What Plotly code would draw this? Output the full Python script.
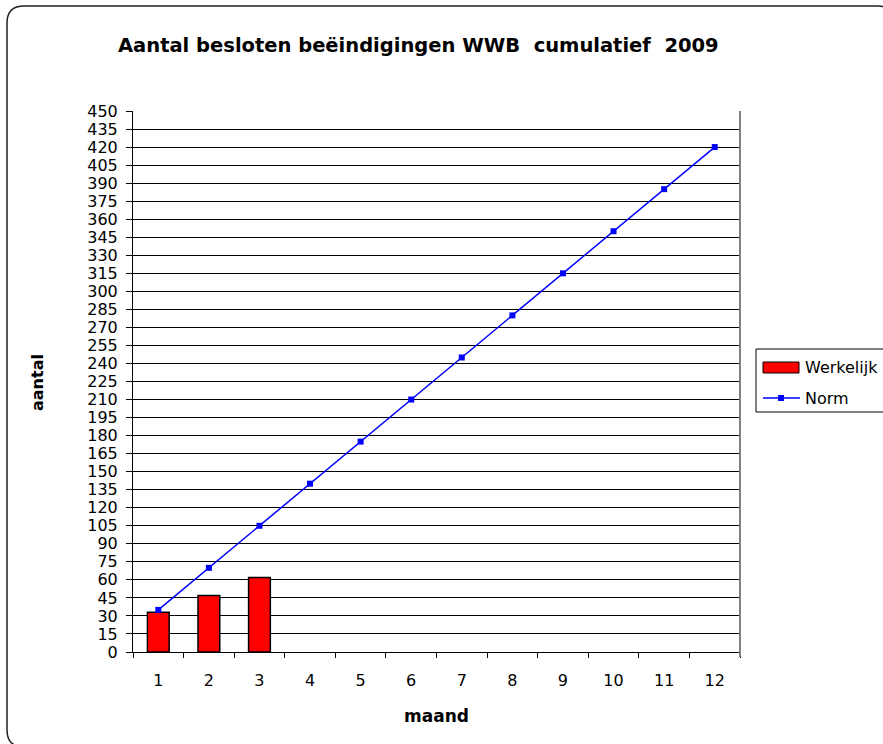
import plotly.graph_objects as go

MONTHS = [str(m) for m in range(1, 13)]
WERKELIJK = [33, 47, 62]
NORM = [35, 70, 105, 140, 175, 210, 245, 280, 315, 350, 385, 420]
Y_TICKS = list(range(0, 451, 15))

W, H = 883, 744
L, R, T, B = 133, 740, 111, 652   # plot area in pixels
FONT = "DejaVu Sans, Arial, sans-serif"


def px_x(x):
    return (x - L) / (R - L)


def px_y(y):
    return (B - y) / (B - T)


def rounded_rect(x0, y0, x1, y1, r):
    pts = [
        f"M {px_x(x0 + r)} {px_y(y0)}",
        f"L {px_x(x1 - r)} {px_y(y0)}",
        f"Q {px_x(x1)} {px_y(y0)} {px_x(x1)} {px_y(y0 + r)}",
        f"L {px_x(x1)} {px_y(y1 - r)}",
        f"Q {px_x(x1)} {px_y(y1)} {px_x(x1 - r)} {px_y(y1)}",
        f"L {px_x(x0 + r)} {px_y(y1)}",
        f"Q {px_x(x0)} {px_y(y1)} {px_x(x0)} {px_y(y1 - r)}",
        f"L {px_x(x0)} {px_y(y0 + r)}",
        f"Q {px_x(x0)} {px_y(y0)} {px_x(x0 + r)} {px_y(y0)} Z",
    ]
    return " ".join(pts)


def box(x0, y0, x1, y1, **kw):
    fig.add_shape(type="rect", xref="paper", yref="paper",
                  x0=px_x(x0), x1=px_x(x1), y0=px_y(y1), y1=px_y(y0), **kw)


def label(text, x, y, size=16, xanchor="left", angle=0):
    fig.add_annotation(text=text, xref="paper", yref="paper",
                       x=px_x(x), y=px_y(y), xanchor=xanchor, yanchor="middle",
                       showarrow=False, textangle=angle, font=dict(size=size))


fig = go.Figure()
fig.add_trace(go.Bar(
    x=MONTHS[:len(WERKELIJK)], y=WERKELIJK, name="Werkelijk",
    marker=dict(color="#FF0000", line=dict(color="black", width=1.5)),
    hoverinfo="skip",
))
fig.add_trace(go.Scatter(
    x=MONTHS, y=NORM, name="Norm", mode="lines+markers",
    line=dict(color="#0000FF", width=1.5),
    marker=dict(symbol="square", size=6, color="#0000FF"),
    hoverinfo="skip",
))

fig.update_layout(
    width=W, height=H,
    margin=dict(l=L, r=W - R, t=T, b=H - B, autoexpand=False),
    paper_bgcolor="white", plot_bgcolor="white",
    font=dict(family=FONT, size=16, color="black"),
    bargap=0.57,
    showlegend=False,
)

fig.update_xaxes(
    type="category", categoryarray=MONTHS, range=[-0.5, 11.5],
    showgrid=False, showline=True, linecolor="black", linewidth=1,
    ticks="outside", tickson="boundaries", ticklen=5, tickcolor="black",
    ticklabelstandoff=14,
)
fig.update_yaxes(
    range=[0, 450], tickvals=Y_TICKS,
    showgrid=True, gridcolor="black", gridwidth=1,
    showline=True, linecolor="black", linewidth=1,
    ticks="outside", ticklen=6, tickcolor="black",
    ticklabelstandoff=5, zeroline=False,
)

# titles
label("<b>Aantal besloten beëindigingen WWB  cumulatief  2009</b>", 418, 45,
      size=19.5, xanchor="center")
label("<b>maand</b>", 436, 716, size=17, xanchor="center")
label("<b>aantal</b>", 38, 383, size=16, xanchor="center", angle=-90)

# plot area right edge
fig.add_shape(type="line", xref="paper", yref="paper",
              x0=1, x1=1, y0=px_y(657), y1=1,
              line=dict(color="#808080", width=2))

# legend (drawn by hand so the swatches match)
box(756, 349, 905, 412, line=dict(color="black", width=1), fillcolor="white")
box(763, 362, 799, 373, line=dict(color="black", width=1), fillcolor="#FF0000")
label("Werkelijk", 803, 367)
fig.add_shape(type="line", xref="paper", yref="paper",
              x0=px_x(763), x1=px_x(800), y0=px_y(398), y1=px_y(398),
              line=dict(color="#0000FF", width=1.5))
box(778, 395, 784, 401, line=dict(width=0), fillcolor="#0000FF")
label("Norm", 803, 398)

# chart frame with rounded corners
fig.add_shape(type="path", xref="paper", yref="paper",
              path=rounded_rect(7, 6, 895, 747, 17),
              line=dict(color="#222222", width=1.5), layer="below")

fig.write_html("out.html", config={"displayModeBar": False},
               post_script="document.body.style.margin='0';")
